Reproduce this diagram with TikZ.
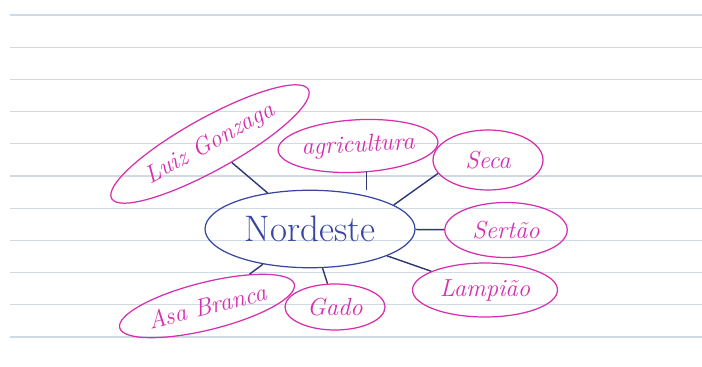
\documentclass[tikz,border=0pt]{standalone}
\usetikzlibrary{shapes.geometric}
\definecolor{azul}{RGB}{55,70,160}
\definecolor{traco}{RGB}{45,55,115}
\definecolor{rosa}{RGB}{215,45,175}
\definecolor{pauta}{RGB}{208,218,228}

\begin{document}
\begin{tikzpicture}[x=0.02cm, y=-0.02cm,
    centro/.style={ellipse, draw=azul, line width=0.7pt, text=azul, inner sep=0pt,
      minimum width=4.2cm, minimum height=1.55cm, font=\fontsize{21}{24}\selectfont},
    ideia/.style={ellipse, draw=rosa, line width=0.7pt, text=rosa, inner sep=0pt,
      font=\itshape\fontsize{14}{16}\selectfont},
    ligacao/.style={draw=traco, line width=0.8pt}]
  \useasboundingbox (0,0) rectangle (702,367);
  \fill[white] (0,0) rectangle (702,367);
  \foreach \k in {0,...,10}
    \draw[pauta, line width=0.6pt] (10,15+32.2*\k) -- (702,15+32.2*\k);

  \node [centro] (nordeste) at (310,229) {Nordeste};
  \node [ideia, minimum width=4.5cm, minimum height=1.05cm, rotate=29] (luiz) at (210,144) {Luiz Gonzaga};
  \node [ideia, minimum width=3.2cm, minimum height=1.05cm, rotate=3] (agri) at (358,146) {agricultura};
  \node [ideia, minimum width=2.2cm, minimum height=1.2cm] (seca) at (488,160) {Seca};
  \node [ideia, minimum width=2.45cm, minimum height=1.1cm] (sertao) at (506,230) {Sertão};
  \node [ideia, minimum width=2.9cm, minimum height=1.08cm] (lampiao) at (485,290) {Lampião};
  \node [ideia, minimum width=2.0cm, minimum height=0.92cm] (gado) at (335,307) {Gado};
  \node [ideia, minimum width=3.6cm, minimum height=0.95cm, rotate=14] (asa) at (207,306) {Asa Branca};

  \draw[ligacao] (luiz) -- (nordeste);
  \draw[ligacao] (agri.-75) -- (agri.-75 |- nordeste.north);
  \draw[ligacao] (seca.195) -- (nordeste.16);
  \draw[ligacao] (sertao) -- (nordeste);
  \draw[ligacao] (lampiao) -- (nordeste);
  \draw[ligacao] (gado) -- (nordeste);
  \draw[ligacao] (asa) -- (nordeste);
\end{tikzpicture}
\end{document}
